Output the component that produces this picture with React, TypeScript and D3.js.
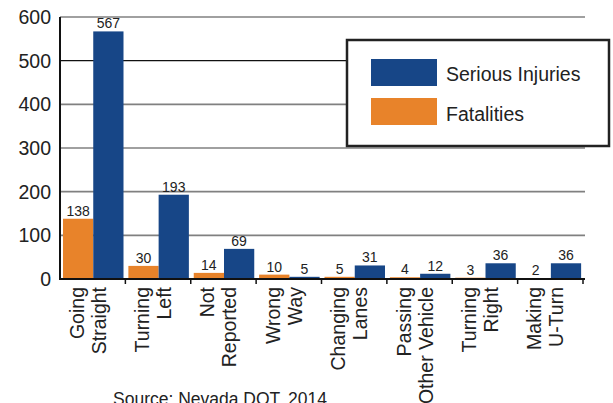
import React from "react";
import * as d3 from "d3";

const categories: string[][] = [
  ["Going", "Straight"],
  ["Turning", "Left"],
  ["Not", "Reported"],
  ["Wrong", "Way"],
  ["Changing", "Lanes"],
  ["Passing", "Other Vehicle"],
  ["Turning", "Right"],
  ["Making", "U-Turn"],
];
const fatalities = [138, 30, 14, 10, 5, 4, 3, 2];
const seriousInjuries = [567, 193, 69, 5, 31, 12, 36, 36];
const yTicks = [0, 100, 200, 300, 400, 500, 600];
const seriesNames = ["Fatalities", "Serious Injuries"];
const source = "Source: Nevada DOT, 2014";

const BLUE = "#174687";
const ORANGE = "#E8832A";
const FONT = "'Liberation Sans', Arial, Helvetica, sans-serif";

export default function App() {
  const W = 613, H = 403;
  const left = 60, right = 583, top = 17, bottom = 279;
  const keys = categories.map((c) => c.join(" "));
  const x = d3.scaleBand<string>().domain(keys).range([left, right]).padding(0);
  const inner = d3.scaleBand<string>().domain(seriesNames).range([3, 63.5]).padding(0);
  const y = d3.scaleLinear().domain([0, 600]).range([bottom, top]);
  const series = [fatalities, seriousInjuries];
  const colors = [ORANGE, BLUE];

  return (
    <svg width={W} height={H} style={{ position: "absolute", left: 0, top: 0, background: "#fff" }} fontFamily={FONT}>
      <rect x={0} y={0} width={W} height={H} fill="#fff" />
      {/* gridlines */}
      {yTicks.filter((t) => t > 0).map((t) => (
        <line key={t} x1={left} x2={585} y1={y(t)} y2={y(t)}
          stroke={t === 500 ? "#111" : "#808080"} strokeWidth={t === 500 ? 1.2 : 1.6} />
      ))}
      {/* y labels */}
      {yTicks.map((t) => (
        <text key={t} x={51} y={y(t)} dy="0.36em" textAnchor="end" fontSize={19.5} fill="#222">{t}</text>
      ))}
      {/* bars */}
      {keys.map((k, i) => (
        <g key={k}>
          {series.map((s, j) => {
            const bx = (x(k) as number) + (inner(seriesNames[j]) as number);
            const bw = inner.bandwidth();
            return (
              <g key={j}>
                <rect x={bx} y={y(s[i])} width={bw} height={bottom - y(s[i])} fill={colors[j]} />
                <text x={bx + bw / 2} y={y(s[i]) - 3} textAnchor="middle" fontSize={14} fill="#222">{s[i]}</text>
              </g>
            );
          })}
        </g>
      ))}
      {/* axes */}
      <line x1={left} x2={left} y1={top} y2={bottom + 1} stroke="#111" strokeWidth={2} />
      <line x1={left - 1} x2={585} y1={bottom} y2={bottom} stroke="#111" strokeWidth={2} />
      {keys.slice(1).concat(["__end"]).map((k, i) => {
        const tx = k === "__end" ? right : (x(k) as number);
        return <line key={i} x1={tx} x2={tx} y1={bottom} y2={bottom + 5} stroke="#111" strokeWidth={1.5} />;
      })}
      {/* category labels */}
      {categories.map((c, i) => {
        const cx = (x(keys[i]) as number) + x.bandwidth() / 2;
        return (
          <g key={i}>
            <text transform={`translate(${cx - 9},287) rotate(-90)`} textAnchor="end" fontSize={19.5} fill="#222">{c[0]}</text>
            <text transform={`translate(${cx + 13},287) rotate(-90)`} textAnchor="end" fontSize={19.5} fill="#222">{c[1]}</text>
          </g>
        );
      })}
      {/* source */}
      <text x={113} y={405} fontSize={17.5} fill="#222">{source}</text>
      {/* legend */}
      <rect x={347} y={40} width={262} height={106} fill="#fff" stroke="#222" strokeWidth={2.5} />
      <rect x={371} y={59} width={66} height={27} fill={BLUE} />
      <rect x={371} y={98} width={66} height={27} fill={ORANGE} />
      <text x={446} y={81} fontSize={19.5} fill="#222">{seriesNames[1]}</text>
      <text x={446} y={121} fontSize={19.5} fill="#222">{seriesNames[0]}</text>
    </svg>
  );
}
